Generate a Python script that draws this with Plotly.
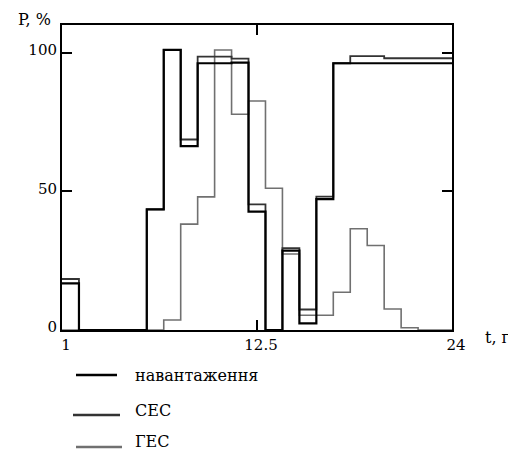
import plotly.graph_objects as go

hours = list(range(1, 25))
load = [16.8, 0, 0, 0, 0, 43.5, 101, 66.3, 96.2, 96.2, 96.4, 42.7, 0, 28.6, 2.4, 47.2,
        96.2, 96.2, 96.2, 96.2, 96.2, 96.2, 96.2, 96.2]
ses = [18.4, 0, 0, 0, 0, 43.5, 101, 68.7, 98.6, 98.6, 97.9, 45.3, 0, 29.5, 7.4, 48.1,
       96.2, 98.8, 98.8, 98.0, 98.0, 98.0, 98.0, 98.0]
ges = [0, 0, 0, 0, 0, 0, 3.6, 38.2, 48, 101, 77.8, 82.6, 51.1, 27.4, 5.3, 5.3,
       13.6, 36.5, 30.5, 7.6, 0.8, 0, 0, 0]

series_names = ["навантаження", "СЕС", "ГЕС"]
x_ticks = [1, 12.5, 24]
x_tick_text = ["1", "12.5", "24"]
y_ticks = [0, 50, 100]
y_tick_text = ["0", "50", "100"]

colors = ["#000000", "#333333", "#707070"]
widths = [2.2, 1.8, 1.6]

FONT = "DejaVu Serif"

# page body has an 8px margin; work in screen pixels and convert
OFF = 8
W, H = 516 - OFF, 454 - OFF
L, R, T, B = 62 - OFF, 452 - OFF, 25 - OFF, 330 - OFF

fig = go.Figure()
for vals, name, c, w in zip([ges, ses, load], series_names[::-1], colors[::-1], widths[::-1]):
    fig.add_trace(go.Scatter(x=hours, y=vals, mode="lines", name=name,
                             line=dict(color=c, width=w, shape="hv"),
                             showlegend=False))

fig.update_layout(
    width=W, height=H,
    margin=dict(l=L, r=W - R, t=T, b=H - B, pad=0),
    paper_bgcolor="white", plot_bgcolor="white",
    font=dict(family=FONT, size=15, color="black"),
    xaxis=dict(range=[1, 24], tickvals=x_ticks, ticktext=x_tick_text,
               showgrid=False, zeroline=False, showline=True, mirror="allticks",
               linecolor="black", linewidth=2, ticks="inside", ticklen=10,
               tickwidth=2, tickcolor="black", ticklabelshift=4,
               tickfont=dict(family=FONT, size=15)),
    yaxis=dict(range=[0, 110], tickvals=y_ticks, ticktext=y_tick_text,
               showgrid=False, zeroline=False, showline=True, mirror="allticks",
               linecolor="black", linewidth=2, ticks="inside", ticklen=10,
               tickwidth=2, tickcolor="black", ticklabelshift=-3,
               tickfont=dict(family=FONT, size=15)),
)

def px(xs):
    return (xs - OFF - L) / (R - L)

def py(ys):
    return (B - (ys - OFF)) / (B - T)

# axis titles (screen pixel positions)
fig.add_annotation(x=px(34), y=py(20), xref="paper", yref="paper", text="P, %",
                   showarrow=False, font=dict(family=FONT, size=16),
                   xanchor="center", yanchor="middle")
fig.add_annotation(x=px(483), y=py(338), xref="paper", yref="paper", text="t, г",
                   showarrow=False, font=dict(family=FONT, size=16),
                   xanchor="left", yanchor="middle")

# custom legend
leg_y = [375, 415, 447]
leg_ty = [375, 410, 442]
leg_x0 = [76, 73, 76]
leg_x1 = [117, 120, 122]
for name, c, ly, ty, x0, x1 in zip(series_names, colors, leg_y, leg_ty, leg_x0, leg_x1):
    fig.add_shape(type="line", xref="paper", yref="paper",
                  x0=px(x0), x1=px(x1), y0=py(ly), y1=py(ly),
                  line=dict(color=c, width=2.5))
    fig.add_annotation(x=px(133), y=py(ty), xref="paper", yref="paper", text=name,
                       showarrow=False, font=dict(family=FONT, size=16),
                       xanchor="left", yanchor="middle")

fig.write_html("out.html")
